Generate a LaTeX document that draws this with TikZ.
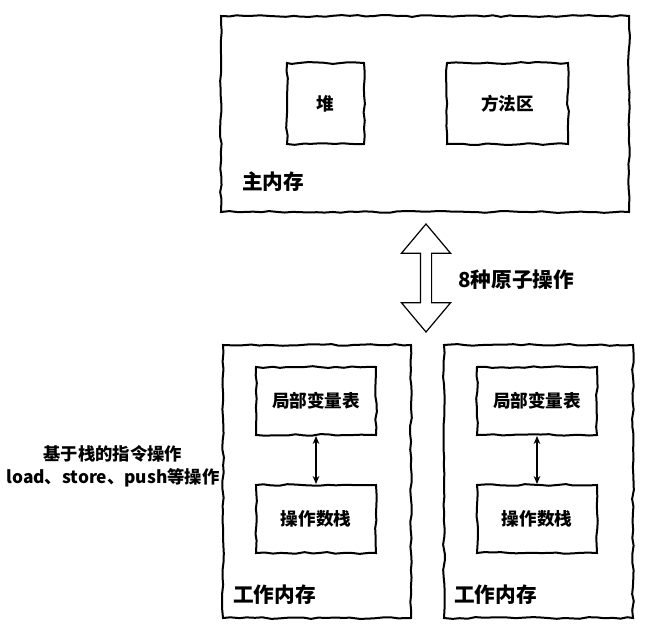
\documentclass[tikz,border=0pt]{standalone}
\usepackage{fontspec}
\usetikzlibrary{arrows.meta,positioning,shapes.arrows,decorations.pathmorphing}
\newfontfamily\cjk{Noto Sans CJK SC}
\definecolor{Ink}{HTML}{000000}
\definecolor{Paper}{HTML}{FFFFFF}

\begin{document}
\begin{tikzpicture}[x=0.75pt,y=-0.75pt,font=\cjk\bfseries,text=Ink,sketch/.style={draw=Ink,line width=1.5pt,decorate,decoration={random steps,segment length=6pt,amplitude=0.7pt}},memory/.style={sketch,inner sep=0pt},part/.style={sketch,inner sep=0pt,minimum height=51pt,font=\cjk\bfseries\fontsize{13.2}{16}\selectfont},grouplabel/.style={anchor=west,inner sep=0pt,font=\cjk\bfseries\fontsize{15.5}{18}\selectfont},link/.style={{Stealth[length=6pt,width=5pt]}-{Stealth[length=6pt,width=5pt]},line width=0.8pt,draw=Ink}]
\fill[Paper] (0,0) rectangle (649,642);
\useasboundingbox (0,0) rectangle (649,642);
\node[memory,minimum width=306pt,minimum height=147pt] (main) at (425,114){};
\node[part,minimum width=57.75pt,minimum height=60.75pt] (heap) at (325.5,103.5){堆};
\node[part,minimum width=90.75pt,minimum height=60.75pt] (method) at (507.5,103.5){方法区};
\node[grouplabel] (mainlabel) at (242,182){主内存};
\node[draw=Ink,line width=0.9pt,fill=Paper,double arrow,rotate=90,minimum height=81pt,inner xsep=0pt,inner ysep=3.75pt,double arrow head extend=14.25pt,double arrow tip angle=80] (atomic) at (426,278){};
\node[grouplabel] (atomiclabel) at (458,280){8种原子操作};
\node[align=center,font=\cjk\bfseries\fontsize{13}{17.5}\selectfont] (stackops) at (113,466){基于栈的指令操作\\load、store、push等操作};
\node[memory,minimum width=141pt,minimum height=204.75pt] (work1) at (317,481.5){};
\node[part,minimum width=90pt] (locals1) at (316,401){局部变量表};
\node[part,minimum width=90pt] (operand1) at (316,519){操作数栈};
\draw[link] (locals1.south) -- (operand1.north);
\node[grouplabel] (work1label) at (233,595){工作内存};
\node[memory,minimum width=141.75pt,minimum height=204.75pt] (work2) at (538.5,481.5){};
\node[part,minimum width=90pt] (locals2) at (537,401){局部变量表};
\node[part,minimum width=90pt] (operand2) at (537,519){操作数栈};
\draw[link] (locals2.south) -- (operand2.north);
\node[grouplabel] (work2label) at (454,595){工作内存};
\end{tikzpicture}
\end{document}
